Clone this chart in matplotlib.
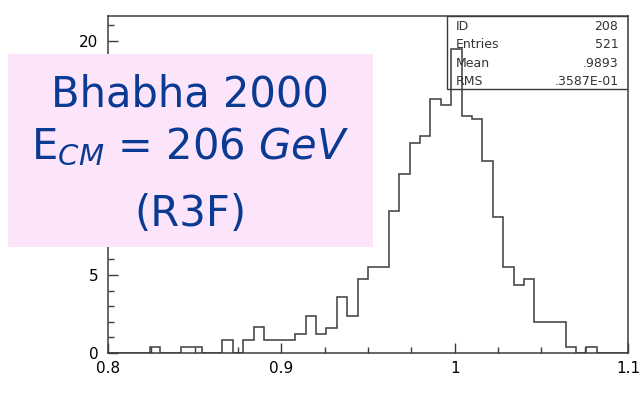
import numpy as np
import matplotlib
matplotlib.use("Agg")
import matplotlib.pyplot as plt
from matplotlib.patches import Rectangle

# histogram contents (50 bins, 0.8 - 1.1)
bin_lo = 0.8
bin_hi = 1.1
n_bins = 50
contents = [0, 0, 0, 0, 0.4, 0, 0, 0.4, 0.4, 0,
            0, 0.85, 0, 0.85, 1.65, 0.85, 0.85, 0.85, 1.2, 2.4,
            1.2, 1.6, 3.6, 2.4, 4.75, 5.5, 5.5, 9.1, 11.5, 13.45,
            13.9, 16.3, 15.9, 19.5, 15.2, 15.0, 12.3, 8.7, 5.5, 4.33,
            4.74, 1.96, 1.96, 1.96, 0.4, 0, 0.4, 0, 0, 0]

stat_names = ["ID", "Entries", "Mean", "RMS"]
stat_vals = ["208", "521", ".9893", ".3587E-01"]

xticks = [0.8, 0.9, 1.0, 1.1]
xticklabels = ["0.8", "0.9", "1", "1.1"]
yticks = [0, 5, 10, 15, 20]
yticklabels = ["0", "5", "", "", "20"]  # 10 and 15 sit under the pink box

lines_txt = ["Bhabha 2000", r"E$_{\mathit{CM}}$ = 206 $\mathit{GeV}$", "(R3F)"]

col = "#3c3c3c"
blue = "#0b3a93"

fig = plt.figure(figsize=(6.41, 3.93), dpi=100)
ax = fig.add_axes([108 / 641, 40 / 393, 520 / 641, 337 / 393])

edges = np.linspace(bin_lo, bin_hi, n_bins + 1)
ax.stairs(contents, edges, baseline=0, color=col, linewidth=1.1)

ax.set_xlim(bin_lo, bin_hi)
ax.set_ylim(0, 21.6)
ax.set_xticks(xticks)
ax.set_xticklabels(xticklabels)
ax.set_xticks(np.arange(0.8, 1.1001, 0.025), minor=True)
ax.set_yticks(yticks)
ax.set_yticklabels(yticklabels)
ax.set_yticks(np.arange(0, 22, 1), minor=True)
ax.tick_params(which="both", direction="in", color=col, width=1.0)
ax.tick_params(which="major", length=7, labelsize=11, pad=7)
ax.tick_params(which="minor", length=4)
ax.tick_params(axis="x", pad=6)
for s in ax.spines.values():
    s.set_color(col)
    s.set_linewidth(1.1)

# stats box
ax.add_patch(Rectangle((0.651, 0.784), 0.349, 0.216, transform=ax.transAxes,
                       fill=False, edgecolor=col, linewidth=1.0, zorder=5))
ys = [0.968, 0.915, 0.860, 0.805]
for name, val, y in zip(stat_names, stat_vals, ys):
    ax.text(0.669, y, name, transform=ax.transAxes, fontsize=9, color="#333333",
            va="center", ha="left")
    ax.text(0.9815, y, val, transform=ax.transAxes, fontsize=9, color="#333333",
            va="center", ha="right")

# pink label box
fig.add_artist(Rectangle((8 / 641, 146 / 393), 365 / 641, 193 / 393,
                         transform=fig.transFigure, facecolor="#fce4fb",
                         edgecolor="none", zorder=10))
for t, yb in zip(lines_txt, [0.728, 0.595, 0.426]):
    fig.text(0.297, yb, t, fontsize=30, color=blue, ha="center", va="baseline",
             zorder=11)

fig.savefig("out.png", dpi=100)
